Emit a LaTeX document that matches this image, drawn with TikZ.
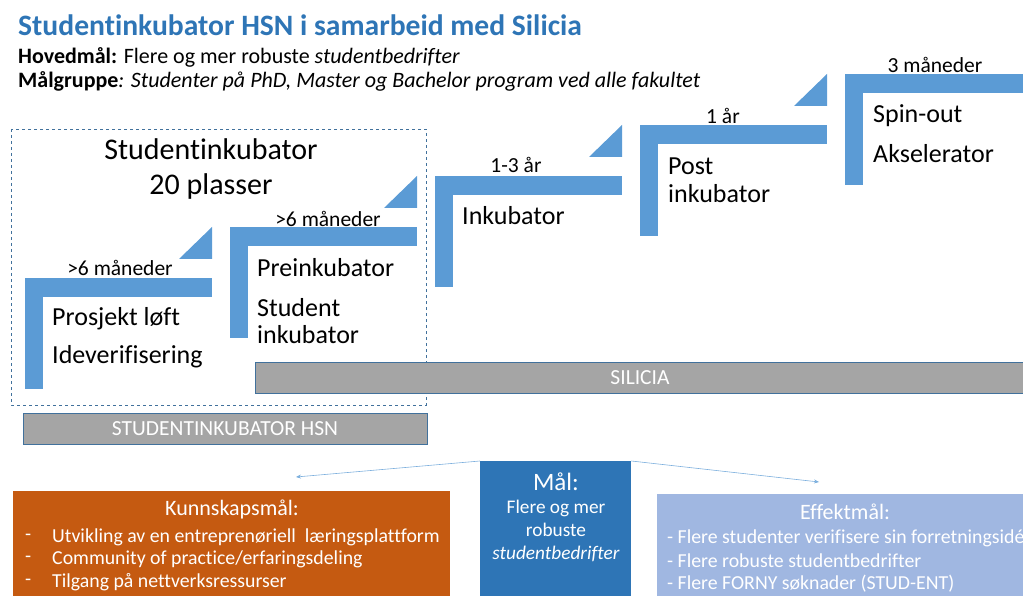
\documentclass[tikz,border=0pt]{standalone}
\usepackage{fontspec}
\setmainfont{Carlito}[Ligatures=NoCommon]
\usetikzlibrary{arrows.meta}
\definecolor{stepblue}{HTML}{5B9BD5}
\definecolor{titleblue}{HTML}{2E75B6}
\definecolor{barline}{HTML}{41719C}
\definecolor{bargray}{HTML}{A5A5A5}
\definecolor{kunnorange}{HTML}{C55A11}
\definecolor{effektblue}{HTML}{A0B7E1}
\newcommand{\fs}[1]{\fontsize{#1}{#1}\selectfont}
\begin{document}
\begin{tikzpicture}[x=1pt, y=-1pt,
  steptext/.style={anchor=west, inner sep=0pt, font=\fs{26}},
  steplabel/.style={inner sep=0pt, font=\fs{21.5}},
  graybar/.style={draw=barline, fill=bargray, line width=0.8pt, text=white, font=\fs{21.5}},
  goalitem/.style={anchor=west, inner sep=0pt, text=white, font=\fs{19.8}},
  goalarrow/.style={draw=stepblue!80, line width=0.6pt, -{Stealth[length=5pt,width=4pt]}}]
\useasboundingbox (0,0) rectangle (1023,596);
% title lines
\node[anchor=west, inner sep=0pt, text=titleblue, font=\fs{29.6}\bfseries] (title) at (18,25) {Studentinkubator HSN i samarbeid med Silicia};
\node[anchor=west, inner sep=0pt, font=\fs{22}] (hoved) at (18,57) {\textbf{Hovedmål:} Flere og mer robuste \textit{studentbedrifter}};
\node[anchor=west, inner sep=0pt, font=\fs{22}] (gruppe) at (18,81) {\textbf{Målgruppe}\textit{: Studenter på PhD, Master og Bachelor program ved alle fakultet}};
% dashed frame
\draw[barline, dashed, line width=0.6pt] (11,129) rectangle (426,405);
\node[inner sep=0pt, font=\fs{30}, align=center] (frametitle) at (211,169) {Studentinkubator\\[5pt]20 plasser};
% steps
\foreach \i in {0,...,4} {
  \pgfmathsetmacro{\xa}{25+205*\i}
  \pgfmathsetmacro{\ya}{278-51*\i}
  \fill[stepblue] (\xa,\ya) rectangle (\xa+187,\ya+19);
  \fill[stepblue] (\xa,\ya) rectangle (\xa+18,\ya+111);
  \ifnum\i<4
    \fill[stepblue] (\xa+187,\ya-51) -- (\xa+187,\ya-19) -- (\xa+154,\ya-19) -- cycle;
  \fi
}
\node[steplabel] (lab1) at (120,268) {>6 måneder};
\node[steplabel] (lab2) at (328,219) {>6 måneder};
\node[steplabel] (lab3) at (516,165) {1-3 år};
\node[steplabel] (lab4) at (723,116) {1 år};
\node[steplabel] (lab5) at (935,65) {3 måneder};
\node[steptext] (prosjekt) at (52,319) {Prosjekt løft};
\node[steptext] (idever) at (52,357) {Ideverifisering};
\node[steptext] (preinku) at (257,268) {Preinkubator};
\node[steptext, align=left] (studinku) at (257,321) {Student\\[1pt]inkubator};
\node[steptext] (inku) at (462,216) {Inkubator};
\node[steptext, align=left] (postinku) at (668,180) {Post\\[2pt]inkubator};
\node[steptext] (spinout) at (873,116) {Spin-out};
\node[steptext] (aksel) at (873,154) {Akselerator};
% gray bars
\node[graybar, minimum width=770, minimum height=31, inner sep=0pt] (silicia) at (640,377.5) {SILICIA};
\node[graybar, minimum width=404, minimum height=31, inner sep=0pt] (hsn) at (225,428.5) {STUDENTINKUBATOR HSN};
% goals
\node[fill=titleblue, minimum width=151, minimum height=140, inner sep=0pt, anchor=north west] (maal) at (480,461) {};
\node[text=white, font=\fs{25}, inner sep=0pt] (maalhead) at (556,482) {Mål:};
\node[text=white, font=\fs{19.3}, align=center, inner sep=0pt] (maaltext) at (556,531) {Flere og mer\\[3.5pt]robuste\\[3.5pt]\textit{studentbedrifter}};
\node[fill=kunnorange, minimum width=437, minimum height=110, inner sep=0pt, anchor=north west] (kunn) at (13,491) {};
\node[text=white, font=\fs{22}, inner sep=0pt] (kunnhead) at (232,509) {Kunnskapsmål:};
\foreach \t/\y in {{Utvikling av en entreprenøriell\ \ læringsplattform}/537, {Community of practice/erfaringsdeling}/559, {Tilgang på nettverksressurser}/582} {
  \node[goalitem] at (25,\y) {-};
  \node[goalitem] at (52,\y) {\t};
}
\node[fill=effektblue, minimum width=380, minimum height=110, inner sep=0pt, anchor=north west] (effekt) at (657,494) {};
\node[text=white, font=\fs{22}, inner sep=0pt] (effekthead) at (845,512) {Effektmål:};
\node[goalitem] (eff1) at (667,538) {- Flere studenter verifisere sin forretningsidé};
\node[goalitem] (eff2) at (667,561) {- Flere robuste studentbedrifter};
\node[goalitem] (eff3) at (667,584) {- Flere FORNY søknader (STUD-ENT)};
\coordinate (leftend) at (296,477);
\coordinate (rightend) at (819,482);
\draw[goalarrow] (maal.north west) -- (leftend);
\draw[goalarrow] (maal.north east) -- (rightend);
\end{tikzpicture}
\end{document}
